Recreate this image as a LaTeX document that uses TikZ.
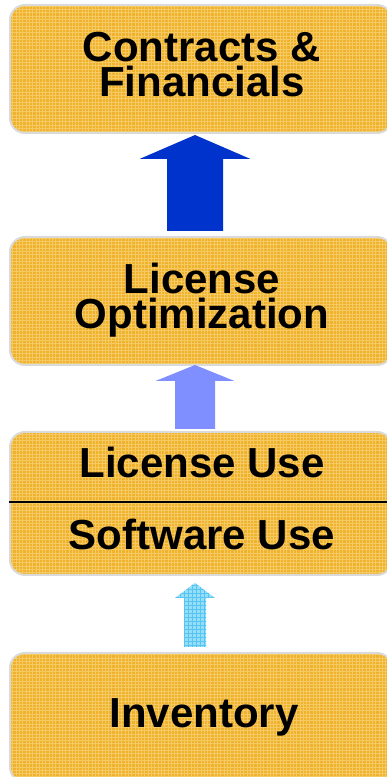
\documentclass[tikz,border=0pt]{standalone}
\usepackage{fontspec}
\setmainfont{Liberation Sans}
\usetikzlibrary{calc}

\definecolor{panelfill}{HTML}{F0B22A}
\definecolor{panelweave}{HTML}{F9D98A}
\definecolor{panelrim}{HTML}{DADADA}
\definecolor{arrowdeep}{HTML}{0033CC}
\definecolor{arrowmid}{HTML}{7F8FFF}
\definecolor{arrowpale}{HTML}{95DEFA}
\definecolor{arrowpaleline}{HTML}{3EBBEF}

\tikzset{
  panel/.style={draw=panelrim, line width=2pt, rounded corners=15pt,
    fill=panelfill, minimum width=382pt, inner sep=0pt,
    path picture={\draw[panelweave, line width=0.9pt, opacity=0.6, step=3.3pt]
      (path picture bounding box.south west) grid (path picture bounding box.north east);}},
  boxtext/.style={font=\fontsize{42}{35}\selectfont\bfseries, align=center,
    text=black, inner sep=0pt},
}

% block arrow pointing up: #1 style, #2 foot, #3 tip, #4 shaft half width,
% #5 head half width, #6 head length
\newcommand\uparrowblock[6]{%
  \path[#1] let \p1=(#2), \p2=(#3) in
    (\x2-#4,\y1) -- (\x2+#4,\y1) -- (\x2+#4,\y2-#6) -- (\x2+#5,\y2-#6)
    -- (\x2,\y2) -- (\x2-#5,\y2-#6) -- (\x2-#4,\y2-#6) -- cycle;}

\begin{document}
\begin{tikzpicture}[x=1pt, y=1pt]
  \useasboundingbox (0,0) rectangle (386,777);

  % the four layers
  \node[panel, minimum height=128pt] (b1) at (201,708) {};
  \node[panel, minimum height=128pt] (b2) at (201,476) {};
  \node[panel, minimum height=143pt] (b3) at (201,273.5) {};
  \node[panel, minimum height=129pt] (b4) at (201,59.5) {};

  % divider inside the usage layer
  \coordinate (d) at (0,275);
  \draw[line width=1.6pt, black] (b3.west |- d) -- (b3.east |- d);

  % labels
  \node[boxtext] (t1) at (202,712) {Contracts \&\\Financials};
  \node[boxtext] (t2) at (202,477) {License\\Optimization};
  \node[boxtext, anchor=base] (t3) at (202,299) {License Use};
  \node[boxtext, anchor=base] (t4) at (202,227) {Software Use};
  \node[boxtext, anchor=base] (t5) at (204,49) {Inventory};

  % arrows between layers
  \coordinate (a1foot) at (195,546);
  \coordinate (a1tip)  at (195,642);
  \coordinate (a2foot) at (195,348);
  \coordinate (a2tip)  at (195,412);
  \coordinate (a3foot) at (195,130);
  \coordinate (a3tip)  at (195,194);

  \uparrowblock{fill=arrowdeep}{a1foot}{a1tip}{28}{55.5}{24}
  \uparrowblock{fill=arrowmid}{a2foot}{a2tip}{20}{39.5}{16}
  \uparrowblock{fill=arrowpale, path picture={\draw[arrowpaleline, line width=0.5pt, opacity=0.7, step=4pt]
      (path picture bounding box.south west) grid (path picture bounding box.north east);}}{a3foot}{a3tip}{11}{20}{15}
\end{tikzpicture}
\end{document}
